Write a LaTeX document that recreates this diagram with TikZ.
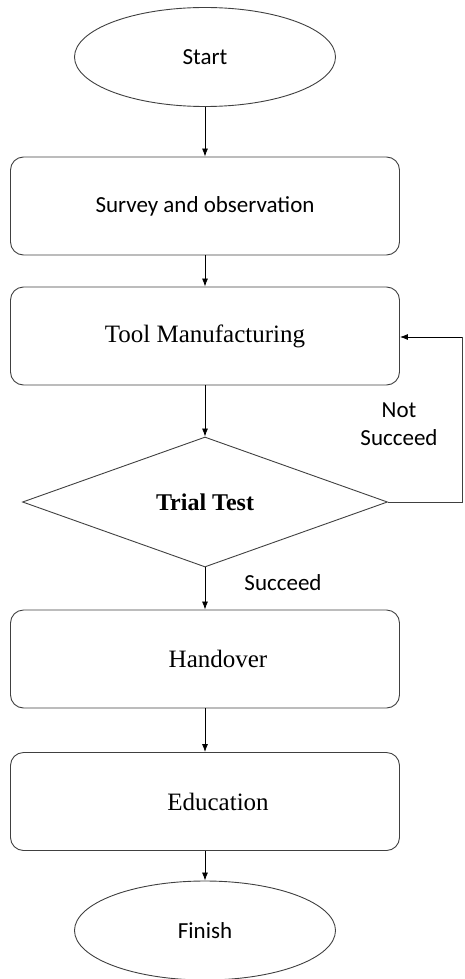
\documentclass[tikz,border=0pt]{standalone}
\usepackage{fontspec}
\setmainfont{Liberation Serif}
\newfontfamily\calfont{Carlito}
\usetikzlibrary{shapes.geometric,arrows.meta}
\tikzset{
  edge/.style={draw=black!75, line width=0.9pt},
  termbox/.style={ellipse, edge, minimum width=261pt, minimum height=99pt, inner sep=0pt, font=\calfont\fontsize{23}{28}\selectfont},
  procbox/.style={rectangle, rounded corners=13pt, edge, minimum width=389pt, minimum height=98pt, inner sep=0pt},
  sanstext/.style={font=\calfont\fontsize{23}{28}\selectfont},
  seriftext/.style={font=\fontsize{25}{30}\selectfont},
  decbox/.style={diamond, edge, aspect=2.8, minimum width=365pt, minimum height=130pt, inner sep=0pt, font=\bfseries\fontsize{24}{28}\selectfont},
  flow/.style={draw=black, line width=0.8pt, -{Latex[length=8pt,width=6pt]}},
  plain/.style={draw=black!75, line width=0.9pt}
}
\begin{document}
\begin{tikzpicture}[x=1pt,y=-1pt]
\useasboundingbox (0,0) rectangle (464,979);
\node[termbox] (start) at (205,57) {Start};
\node[procbox, sanstext] (survey) at (205,206) {Survey and observation};
\node[procbox, seriftext] (tool) at (205,336) {Tool Manufacturing};
\node[decbox] (trial) at (205,502) {Trial Test};
\node[procbox] (hand) at (205,659) {};
\node[seriftext] (handt) at (218,659) {Handover};
\node[procbox] (edu) at (205,801.5) {};
\node[seriftext] (edut) at (218,801.5) {Education};
\node[termbox] (finish) at (205,930.5) {Finish};
\node[sanstext, align=center] (notlbl) at (399,424) {Not\\Succeed};
\node[sanstext] (suclbl) at (283,583) {Succeed};
\coordinate (r1) at (462,502);
\coordinate (r2) at (462,337);
\draw[flow] (start.south) -- (survey.north);
\draw[flow] (survey.south) -- (tool.north);
\draw[flow] (tool.south) -- (trial.north);
\draw[flow] (trial.south) -- (hand.north);
\draw[flow] (hand.south) -- (edu.north);
\draw[flow] (edu.south) -- (finish.north);
\draw[plain] (trial.east) -- (r1) -- (r2);
\draw[flow] (r2) -- (tool.east |- r2);
\end{tikzpicture}
\end{document}
